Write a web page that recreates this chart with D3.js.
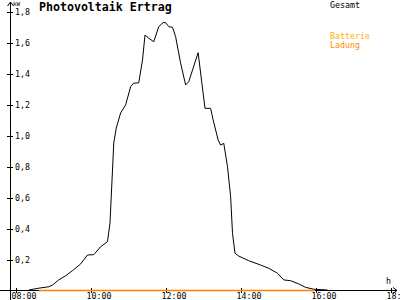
<!DOCTYPE html>
<html>
<head>
<meta charset="utf-8">
<script src="https://cdn.jsdelivr.net/npm/d3@7"></script>
<style>
  body { margin: 0; background: #fff; }
  svg { display: block; }
  text { font-family: "DejaVu Sans Mono", monospace; }
</style>
</head>
<body>
<div id="chart-area"></div>
<script>
// SVG Size
var width = 400,
    height = 300;

// Gesamt (kW)
var gesamtTimes = ["08:22","08:37","08:54","09:00","09:10","09:21","09:32","09:45","09:56","10:06",
  "10:17","10:28","10:32","10:35","10:38","10:42","10:49","10:57","11:05","11:10",
  "11:18","11:24","11:28","11:34","11:42","11:50","11:57","12:01","12:06","12:12",
  "12:17","12:25","12:33","12:38","12:53","12:59","13:04","13:13","13:17","13:25",
  "13:29","13:34","13:40","13:45","13:48","13:52","13:58","14:14","14:33","14:46",
  "15:00","15:10","15:21","15:34","15:45","15:58","16:20"];
var gesamtValues = [0,0.011,0.021,0.032,0.065,0.092,0.125,0.168,0.226,0.228,
  0.279,0.312,0.432,0.690,0.948,1.045,1.142,1.194,1.312,1.334,
  1.337,1.484,1.645,1.624,1.602,1.699,1.725,1.725,1.699,1.695,
  1.634,1.463,1.323,1.344,1.531,1.334,1.172,1.172,1.097,0.968,
  0.935,0.946,0.795,0.602,0.366,0.237,0.219,0.189,0.161,0.140,
  0.108,0.065,0.060,0.039,0.017,0.005,0];

// Batterie Ladung (kW)
var ladungTimes = ["08:38","10:00","12:00","14:00","16:00"];
var ladungValues = [0,0,0,0,0];

var xTicks = [8,10,12,14,16,18];
var yTicks = [0.2,0.4,0.6,0.8,1.0,1.2,1.4,1.6,1.8];

function toHours(s) {
  var p = s.split(":");
  return +p[0] + p[1] / 60;
}

var gesamt = gesamtTimes.map(function(t, i){ return {t: toHours(t), v: gesamtValues[i]}; });
var ladung = ladungTimes.map(function(t, i){ return {t: toHours(t), v: ladungValues[i]}; });

var x = d3.scaleLinear().domain([8, 18]).range([15, 390]);
var y = d3.scaleLinear().domain([0, 1.8]).range([290, 11]);

var svg = d3.select('#chart-area')
  .append("svg")
  .attr("width", width)
  .attr("height", height);

// axis lines
svg.append("line")
  .attr("x1", 0).attr("x2", 397)
  .attr("y1", 290.5).attr("y2", 290.5)
  .attr("stroke", "#000").attr("shape-rendering", "crispEdges");
svg.append("path")
  .attr("d", "M393,287.5 L397,290.5 L393,293.5")
  .attr("fill", "none").attr("stroke", "#000");

svg.append("line")
  .attr("x1", 10.5).attr("x2", 10.5)
  .attr("y1", 2).attr("y2", 300)
  .attr("stroke", "#000").attr("shape-rendering", "crispEdges");
svg.append("path")
  .attr("d", "M7.5,6 L10.5,2 L13.5,6")
  .attr("fill", "none").attr("stroke", "#000");

// x axis
var xAxis = d3.axisBottom(x)
  .tickValues(xTicks)
  .tickSize(5)
  .tickFormat(function(d){ return (d < 10 ? "0" : "") + d + ":00"; });

var gx = svg.append("g")
  .attr("class", "axis x-axis")
  .attr("transform", "translate(0.5, 288)")
  .call(xAxis);
gx.select(".domain").remove();
gx.selectAll("line").attr("stroke", "#000").attr("shape-rendering", "crispEdges");
gx.selectAll("text")
  .attr("text-anchor", "start")
  .attr("x", -4.5)
  .attr("y", 11)
  .attr("dy", null)
  .attr("fill", "#000")
  .style("font-size", "8.3px")
  .style("font-family", "DejaVu Sans Mono");

// y axis
var yAxis = d3.axisLeft(y)
  .tickValues(yTicks)
  .tickSize(6)
  .tickFormat(function(d){ return d3.format(".1f")(d).replace(".", ","); });

var gy = svg.append("g")
  .attr("class", "axis y-axis")
  .attr("transform", "translate(13, 0.5)")
  .call(yAxis);
gy.select(".domain").remove();
gy.selectAll("line").attr("stroke", "#000").attr("shape-rendering", "crispEdges");
gy.selectAll("text")
  .attr("text-anchor", "start")
  .attr("x", 2)
  .attr("dy", "0.38em")
  .attr("fill", "#000")
  .style("font-size", "8.3px")
  .style("font-family", "DejaVu Sans Mono");

// unit labels
svg.append("text")
  .attr("x", 13).attr("y", 5.5)
  .style("font-size", "6px")
  .text("kW");
svg.append("text")
  .attr("x", 386).attr("y", 284)
  .style("font-size", "8.3px")
  .text("h");

// title
svg.append("text")
  .attr("x", 39).attr("y", 11)
  .style("font-size", "11.6px")
  .style("font-weight", "bold")
  .text("Photovoltaik Ertrag");

// legend
svg.append("text")
  .attr("x", 330).attr("y", 8)
  .attr("fill", "#000")
  .style("font-size", "8.3px")
  .text("Gesamt");
svg.append("text")
  .attr("x", 330).attr("y", 39)
  .attr("fill", "#ffb400")
  .style("font-size", "8.3px")
  .text("Batterie");
svg.append("text")
  .attr("x", 330).attr("y", 48)
  .attr("fill", "#ff8c00")
  .style("font-size", "8.3px")
  .text("Ladung");

// lines
var line = d3.line()
  .x(function(d){ return x(d.t); })
  .y(function(d){ return y(d.v); });

svg.append("path")
  .datum(gesamt)
  .attr("d", line)
  .attr("fill", "none")
  .attr("stroke", "#000")
  .attr("stroke-width", 1);

svg.append("path")
  .datum(ladung)
  .attr("d", line)
  .attr("transform", "translate(0, 0.5)")
  .attr("fill", "none")
  .attr("stroke", "#ff8000")
  .attr("stroke-width", 1.5);
</script>
</body>
</html>
